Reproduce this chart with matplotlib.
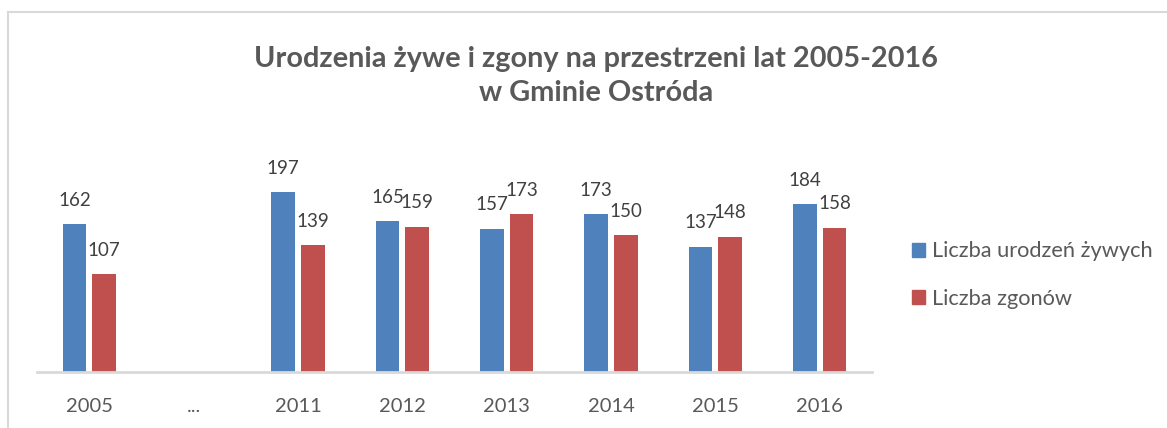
import matplotlib
matplotlib.use("Agg")
import matplotlib.pyplot as plt
from matplotlib.lines import Line2D
import numpy as np

categories = ["2005", "...", "2011", "2012", "2013", "2014", "2015", "2016"]
births = [162, None, 197, 165, 157, 173, 137, 184]
deaths = [107, None, 139, 159, 173, 150, 148, 158]
series_names = ["Liczba urodzeń żywych", "Liczba zgonów"]
title = "Urodzenia żywe i zgony na przestrzeni lat 2005-2016\nw Gminie Ostróda"

BLUE = "#4F81BD"
RED = "#C0504D"
TXT = "#595959"
FONT = ["Lato", "DejaVu Sans"]
plt.rcParams["font.family"] = FONT

W, H = 1167, 428
fig = plt.figure(figsize=(W / 100, H / 100), dpi=100)

# frame (only top and left edges visible)
fig.add_artist(Line2D([8 / W, 8 / W], [0, 1 - 12 / H], transform=fig.transFigure,
                      color="#d9d9d9", lw=1.5))
fig.add_artist(Line2D([8 / W, 1], [1 - 12 / H, 1 - 12 / H], transform=fig.transFigure,
                      color="#d9d9d9", lw=1.5))

left, right = 37 / W, 872 / W
bottom, top = 1 - 372 / H, 1 - 140 / H
ax = fig.add_axes([left, bottom, right - left, top - bottom])
ymax = (372 - 140) / 0.913
ax.set_ylim(0, ymax)
ax.set_xlim(-0.5, len(categories) - 0.5)

x = np.arange(len(categories))
bw = 0.226
off = 0.142
bx = [xi - off for xi, v in zip(x, births) if v is not None]
bv = [v for v in births if v is not None]
dx = [xi + off for xi, v in zip(x, deaths) if v is not None]
dv = [v for v in deaths if v is not None]
ax.bar(bx, bv, width=bw, color=BLUE, label=series_names[0], zorder=2)
ax.bar(dx, dv, width=bw, color=RED, label=series_names[1], zorder=2)

pad = 24 / 0.913
for xi, v in zip(bx, bv):
    ax.text(xi, v + pad, str(v), ha="center", va="center", fontsize=13.5, color="#404040")
for xi, v in zip(dx, dv):
    ax.text(xi, v + pad, str(v), ha="center", va="center", fontsize=13.5, color="#404040")

for s in ["top", "right", "left"]:
    ax.spines[s].set_visible(False)
ax.spines["bottom"].set_color("#d9d9d9")
ax.spines["bottom"].set_linewidth(2)
ax.set_yticks([])
ax.set_xticks(x)
ax.set_xticklabels(categories, fontsize=14.5, color=TXT)
ax.tick_params(axis="x", length=0, pad=19)

fig.text(596 / W, 1 - 76 / H, title, ha="center", va="center", fontsize=20.8,
         fontweight="bold", color=TXT, linespacing=1.42)

# legend
handles = [plt.Rectangle((0, 0), 1, 1, color=BLUE), plt.Rectangle((0, 0), 1, 1, color=RED)]
fig.legend(handles, series_names, loc="center left", bbox_to_anchor=(912 / W, 1 - 275 / H),
           frameon=False, fontsize=15.7, labelcolor=TXT, handlelength=0.6, handleheight=0.6,
           handletextpad=0.3, labelspacing=1.25, borderaxespad=0, borderpad=0)

fig.savefig("out.png", dpi=100)
